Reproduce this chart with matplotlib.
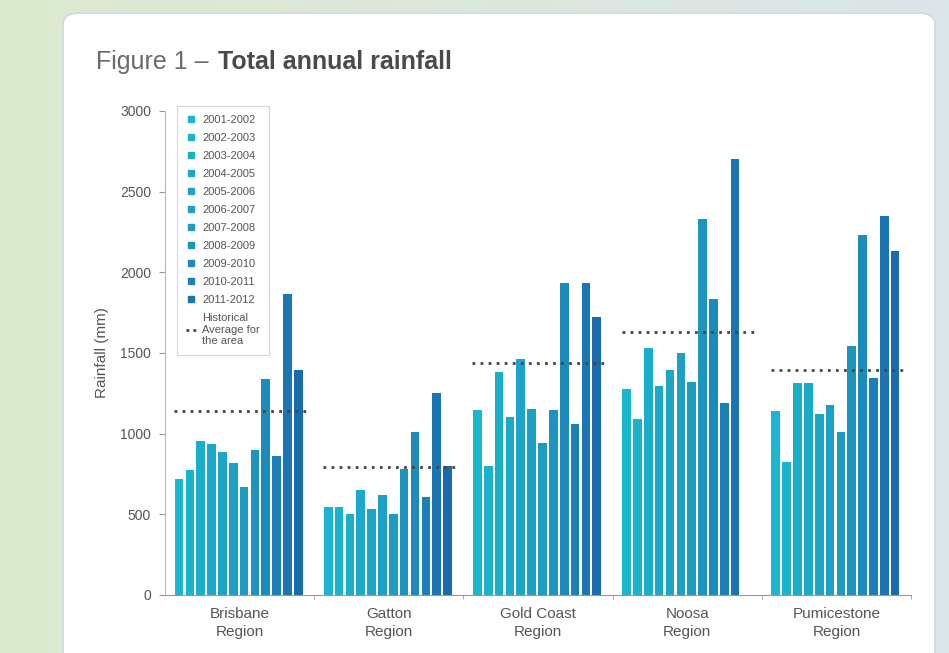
import matplotlib.pyplot as plt
import numpy as np
from matplotlib.lines import Line2D
from matplotlib.patches import FancyBboxPatch

plt.rcParams['font.family'] = ['Liberation Sans', 'DejaVu Sans']

regions = ["Brisbane\nRegion", "Gatton\nRegion", "Gold Coast\nRegion", "Noosa\nRegion", "Pumicestone\nRegion"]
years = ["2001-2002", "2002-2003", "2003-2004", "2004-2005", "2005-2006", "2006-2007",
         "2007-2008", "2008-2009", "2009-2010", "2010-2011", "2011-2012"]

# rainfall (mm), one row per region, 12 bars each (Noosa has 11)
brisbane = [719, 775, 955, 936, 887, 818, 670, 899, 1339, 862, 1866, 1395]
gatton = [546, 546, 502, 651, 533, 620, 502, 781, 1011, 608, 1252, 800]
gold_coast = [1147, 800, 1382, 1103, 1463, 1153, 942, 1147, 1934, 1060, 1934, 1723]
noosa = [1277, 1091, 1531, 1296, 1395, 1500, 1321, 2331, 1835, 1190, 2703, np.nan]
pumicestone = [1141, 825, 1314, 1314, 1122, 1178, 1011, 1544, 2232, 1345, 2350, 2133]
hist_avg = [1141, 794, 1438, 1631, 1395]

data = np.array([brisbane, gatton, gold_coast, noosa, pumicestone])

colors = ["#1ab6cf", "#1bb2cd", "#1baecb", "#1ca9c9", "#1ca5c7", "#1da0c5",
          "#1d9bc3", "#1d93c0", "#1c8bbc", "#1b80b7", "#1a75b2", "#196bad"]

W, H = 949, 653
fig = plt.figure(figsize=(W / 100, H / 100), dpi=100)

# background gradient
bg = fig.add_axes([0, 0, 1, 1], zorder=-10)
grad = np.linspace(0, 1, 256).reshape(1, -1)
c0 = np.array([0.86, 0.92, 0.81])
c1 = np.array([0.86, 0.90, 0.92])
img = c0[None, None, :] * (1 - grad[..., None]) + c1[None, None, :] * grad[..., None]
bg.imshow(img, aspect='auto', extent=[0, 1, 0, 1])
bg.set_xlim(0, 1)
bg.set_ylim(0, 1)
bg.axis('off')

# white card
card = FancyBboxPatch((63 / W, -0.05), (935 - 63) / W, (H - 13) / H + 0.05,
                      boxstyle="round,pad=0,rounding_size=0.018",
                      transform=fig.transFigure, facecolor='white',
                      edgecolor='#d0d8dc', linewidth=1.2, zorder=-5)
fig.patches.append(card)

t1 = fig.text(96 / W, 1 - 62 / H, "Figure 1 – ", fontsize=18, color='#6b6b6b', va='center')
renderer = fig.canvas.get_renderer()
bb = t1.get_window_extent(renderer)
fig.text(bb.x1 / W + 2 / W, 1 - 62 / H, "Total annual rainfall", fontsize=18, color='#4a4a4a',
         fontweight='bold', va='center')

ax = fig.add_axes([165 / W, (H - 595) / H, (911 - 165) / W, (595 - 111) / H])
ax.set_facecolor('none')

n = data.shape[1]
slot = 0.0727
bw = 0.058
x0 = np.arange(len(regions))
for j in range(n):
    xs = x0 - 0.435 + slot * j + bw / 2
    ax.bar(xs, data[:, j], width=bw, color=colors[j], zorder=2)

for i, v in enumerate(hist_avg):
    ax.hlines(v, i - 0.44, i + 0.47, colors='#444444', linestyles=(0, (1, 1.9)),
              linewidth=2.0, zorder=3)

ax.set_xlim(-0.5, len(regions) - 0.5)
ax.set_ylim(0, 3000)
ax.set_yticks(np.arange(0, 3001, 500))
ax.set_xticks(x0)
ax.set_xticklabels(regions, fontsize=11, color='#555555', linespacing=1.35)
ax.set_xticks(np.arange(0.5, len(regions), 1), minor=True)
ax.tick_params(axis='x', which='major', length=0, pad=9)
ax.tick_params(axis='x', which='minor', length=3, color='#999999')
ax.tick_params(axis='y', length=4, color='#999999', labelsize=10, labelcolor='#555555', pad=6)
for s in ['top', 'right']:
    ax.spines[s].set_visible(False)
ax.spines['left'].set_color('#bbbbbb')
ax.spines['bottom'].set_color('#999999')
ax.set_ylabel("Rainfall (mm)", fontsize=11, color='#555555', labelpad=8)

handles = [Line2D([0], [0], marker='s', linestyle='none', markersize=5,
                  color=colors[k]) for k in range(len(years))]
labels = list(years)
handles.append(Line2D([0], [0], color='#444444', linestyle=(0, (1, 1.5)), linewidth=2))
labels.append("Historical\nAverage for\nthe area")
leg = ax.legend(handles, labels, loc='upper left', bbox_to_anchor=(0.016, 1.01),
                fontsize=8, frameon=True, fancybox=False, handlelength=0.9,
                handletextpad=0.6, labelspacing=0.72, borderpad=0.8,
                labelcolor='#555555', borderaxespad=0)
leg.get_frame().set_edgecolor('#cccccc')
leg.get_frame().set_linewidth(0.8)

fig.savefig("out.png", dpi=100)
